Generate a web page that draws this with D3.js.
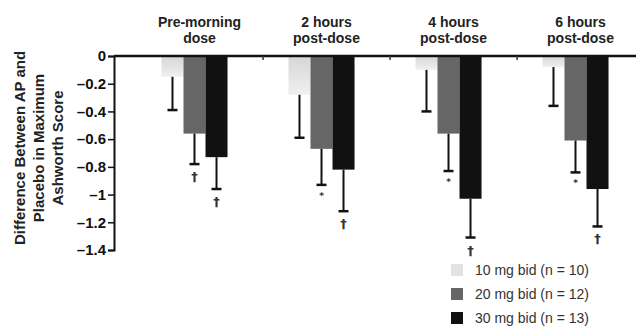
<!DOCTYPE html>
<html>
<head>
<meta charset="utf-8">
<script src="https://cdn.jsdelivr.net/npm/d3@7"></script>
<style>
  body { margin: 0; background: #fff; }
  text { font-family: "Liberation Sans", Arial, sans-serif; }
  text.sig { font-family: "DejaVu Sans", sans-serif; }
</style>
</head>
<body>
<div id="chart"></div>
<script>
// ---------------- data ----------------
var groups = ['Pre-morning dose', '2 hours post-dose', '4 hours post-dose', '6 hours post-dose'];
var groupLines = [['Pre-morning', 'dose'], ['2 hours', 'post-dose'], ['4 hours', 'post-dose'], ['6 hours', 'post-dose']];
var doses = ['10 mg bid (n = 10)', '20 mg bid (n = 12)', '30 mg bid (n = 13)'];
var mean10 = [-0.15, -0.28, -0.10, -0.08];
var mean20 = [-0.56, -0.67, -0.56, -0.61];
var mean30 = [-0.73, -0.82, -1.03, -0.96];
var errEnd10 = [-0.39, -0.59, -0.40, -0.36];
var errEnd20 = [-0.78, -0.93, -0.83, -0.84];
var errEnd30 = [-0.96, -1.12, -1.31, -1.23];
var sig10 = ['', '', '', ''];
var sig20 = ['\u2020', '*', '*', '*'];
var sig30 = ['\u2020', '\u2020', '\u2020', '\u2020'];
var yTicks = [0, -0.2, -0.4, -0.6, -0.8, -1, -1.2, -1.4];
var yLabelLines = ['Difference Between AP and', 'Placebo in Maximum', 'Ashworth Score'];

var colors = ['url(#lightFade)', '#666666', '#111111'];
var legendColors = ['#e2e2e2', '#666666', '#111111'];

// build rows for drawing
var means = [mean10, mean20, mean30];
var errs = [errEnd10, errEnd20, errEnd30];
var sigs = [sig10, sig20, sig30];
var rows = [];
groups.forEach(function (g, gi) {
    doses.forEach(function (d, di) {
        rows.push({group: g, dose: d, di: di, value: means[di][gi], err: errs[di][gi], sig: sigs[di][gi]});
    });
});

// ---------------- svg ----------------
var width = 636, height = 327;
var svg = d3.select('#chart').append('svg')
    .attr('width', width)
    .attr('height', height);

var defs = svg.append('defs');
var grad = defs.append('linearGradient')
    .attr('id', 'lightFade')
    .attr('x1', 0).attr('y1', 0).attr('x2', 0).attr('y2', 1);
grad.append('stop').attr('offset', '0%').attr('stop-color', '#d6d6d6');
grad.append('stop').attr('offset', '100%').attr('stop-color', '#f0f0f0');

var y = d3.scaleLinear().domain([-1.4, 0]).range([250, 56]);
var x0 = d3.scaleBand().domain(groups).range([131, 639]).paddingInner(0.48).paddingOuter(0.24);
var x1 = d3.scaleBand().domain(doses).range([0, x0.bandwidth()]);

// y axis
var yAxis = d3.axisLeft(y)
    .tickValues(yTicks)
    .tickSize(6)
    .tickFormat(function (d) { return d === 0 ? '0' : '\u2013' + Math.abs(d); });
var gy = svg.append('g')
    .attr('transform', 'translate(114,0)')
    .call(yAxis);
gy.select('.domain').attr('stroke', '#111').attr('stroke-width', 2);
gy.selectAll('.tick line').attr('stroke', '#111').attr('stroke-width', 1.5);
gy.selectAll('.tick text')
    .attr('x', -8)
    .attr('fill', '#111')
    .style('font-size', '15px')
    .style('font-weight', 'bold');

// y label
var yl = svg.append('text')
    .attr('transform', 'translate(0,148) rotate(-90)')
    .attr('text-anchor', 'middle')
    .style('font-size', '15px')
    .style('font-weight', 'bold')
    .attr('fill', '#222');
yLabelLines.forEach(function (t, i) {
    yl.append('tspan').attr('x', 0).attr('y', 25 + i * 19).text(t);
});

// bars
var gBars = svg.append('g');
gBars.selectAll('rect')
    .data(rows)
    .enter()
    .append('rect')
    .attr('x', function (d) { return x0(d.group) + x1(d.dose); })
    .attr('y', y(0))
    .attr('width', x1.bandwidth())
    .attr('height', function (d) { return y(d.value) - y(0); })
    .attr('fill', function (d) { return colors[d.di]; });

// zero line with small group separators
svg.append('line')
    .attr('x1', 114).attr('x2', width)
    .attr('y1', y(0)).attr('y2', y(0))
    .attr('stroke', '#111').attr('stroke-width', 2.5);
svg.selectAll('.sep')
    .data(groups.slice(1))
    .enter()
    .append('line')
    .attr('class', 'sep')
    .attr('x1', function (d) { return x0(d) - x0.step() * 0.2; })
    .attr('x2', function (d) { return x0(d) - x0.step() * 0.2; })
    .attr('y1', y(0)).attr('y2', y(0) + 4)
    .attr('stroke', '#333').attr('stroke-width', 1.5);

// error bars (one-sided, downward)
var cx = function (d) { return x0(d.group) + x1(d.dose) + x1.bandwidth() / 2; };
var gErr = svg.append('g');
gErr.selectAll('.whisker')
    .data(rows)
    .enter()
    .append('line')
    .attr('x1', cx).attr('x2', cx)
    .attr('y1', function (d) { return y(d.value); })
    .attr('y2', function (d) { return y(d.err); })
    .attr('stroke', '#111').attr('stroke-width', 2);
gErr.selectAll('.cap')
    .data(rows)
    .enter()
    .append('line')
    .attr('x1', function (d) { return cx(d) - 5; })
    .attr('x2', function (d) { return cx(d) + 5; })
    .attr('y1', function (d) { return y(d.err); })
    .attr('y2', function (d) { return y(d.err); })
    .attr('stroke', '#111').attr('stroke-width', 2.5);

// significance marks
svg.selectAll('text.sig')
    .data(rows.filter(function (d) { return d.sig; }))
    .enter()
    .append('text')
    .attr('class', 'sig')
    .attr('x', cx)
    .attr('y', function (d) { return y(d.err) + (d.sig === '*' ? 14 : 17); })
    .attr('text-anchor', 'middle')
    .style('font-size', function (d) { return d.sig === '*' ? '9px' : '13px'; })
    .style('font-weight', 'bold')
    .attr('fill', '#333')
    .text(function (d) { return d.sig; });

// group labels
groups.forEach(function (g, gi) {
    var t = svg.append('text')
        .attr('text-anchor', 'middle')
        .style('font-size', '14px')
        .style('font-weight', 'bold')
        .attr('fill', '#222');
    groupLines[gi].forEach(function (line, li) {
        t.append('tspan')
            .attr('x', x0(g) + x0.bandwidth() / 2 + 5)
            .attr('y', 27 + li * 16)
            .text(line);
    });
});

// legend
var legend = svg.append('g').attr('transform', 'translate(451,264)');
var items = legend.selectAll('g')
    .data(doses)
    .enter()
    .append('g')
    .attr('transform', function (d, i) { return 'translate(0,' + i * 24 + ')'; });
items.append('rect')
    .attr('width', 12).attr('height', 12)
    .attr('fill', function (d, i) { return legendColors[i]; });
items.append('text')
    .attr('x', 24).attr('y', 11)
    .style('font-size', '14px')
    .attr('fill', '#333')
    .text(function (d) { return d; });
</script>
</body>
</html>
